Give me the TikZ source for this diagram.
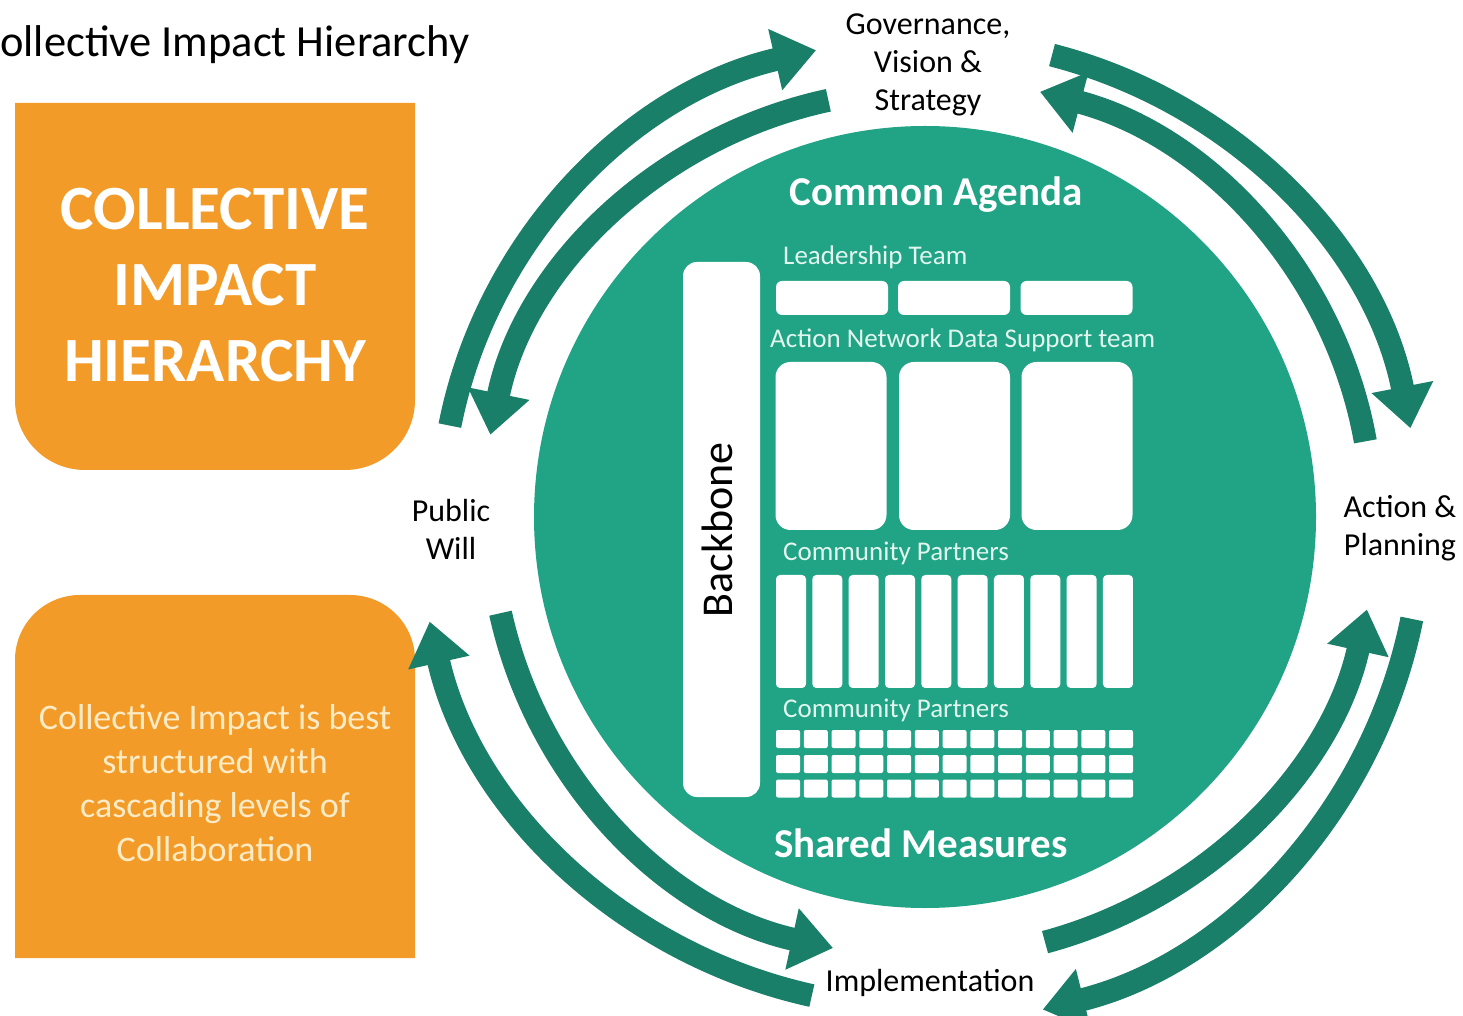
\documentclass[tikz,border=0pt]{standalone}
\usepackage{fontspec}
\setmainfont{Carlito}
\usetikzlibrary{arrows.meta,calc}
\definecolor{circfill}{HTML}{21A385}
\definecolor{arrowgreen}{HTML}{1A7F68}
\definecolor{boxorange}{HTML}{F29B28}
\definecolor{creamtext}{HTML}{FDEBC6}
\definecolor{minttext}{HTML}{E2F6EF}
\begin{document}
\begin{tikzpicture}[x=1pt,y=1pt,
  flow/.style={draw=arrowgreen, line width=23pt, -{Triangle[width=60pt,length=42pt]}},
  whitebox/.style={fill=white, draw=none, inner sep=0pt, outer sep=0pt},
  lbl/.style={align=center, inner sep=0pt, font=\fontsize{32}{38}\selectfont},
  inlbl/.style={anchor=west, inner sep=0pt, text=minttext, font=\fontsize{27}{30}\selectfont},
  headlbl/.style={inner sep=0pt, text=white, font=\bfseries\fontsize{41}{48}\selectfont}]
\useasboundingbox (0,0) rectangle (1463,1015);
\fill[white] (0,0) rectangle (1463,1015);

% title
\node[anchor=base west, inner sep=0pt, font=\fontsize{44.5}{50}\selectfont] (title) at (0,958) {ollective Impact Hierarchy};

% orange panels
\fill[boxorange] (15,912) -- (415,912) -- (415,615) arc[start angle=0, end angle=-90, radius=70] -- (85,545) arc[start angle=270, end angle=180, radius=70] -- cycle;
\node[align=center, inner sep=0pt, text=white, font=\bfseries\fontsize{63}{76}\selectfont] (heading) at (215,730) {COLLECTIVE\\IMPACT\\HIERARCHY};

\fill[boxorange] (15,57) -- (415,57) -- (415,355) arc[start angle=0, end angle=90, radius=65] -- (80,420) arc[start angle=90, end angle=180, radius=65] -- cycle;
\node[align=center, inner sep=0pt, text=creamtext, font=\fontsize{36}{44}\selectfont] (note) at (215,232) {Collective Impact is best\\structured with\\cascading levels of\\Collaboration};

% central disc
\coordinate (c) at (925,498);
\fill[circfill] (c) circle[radius=391];

\node[headlbl] (agenda) at (936,820) {Common Agenda};
\node[headlbl] (measures) at (921,172) {Shared Measures};

% backbone column
\node[whitebox, rounded corners=14pt, minimum width=77pt, minimum height=535pt] (backbone) at (721.5,485.5) {};
\node[rotate=90, inner sep=0pt, font=\fontsize{44}{48}\selectfont] (backbonetxt) at (717,485) {Backbone};

% leadership team
\node[inlbl] (leadtxt) at (783,758) {Leadership Team};
\foreach \i/\x in {1/832,2/954,3/1076.5}
  \node[whitebox, rounded corners=6pt, minimum width=112pt, minimum height=34pt] (lead\i) at (\x,717) {};

% action networks
\node[inlbl] (actiontxt) at (770,675) {Action Network Data Support team};
\foreach \i/\x in {1/831,2/954.5,3/1077}
  \node[whitebox, rounded corners=15pt, minimum width=111pt, minimum height=168pt] (act\i) at (\x,569) {};

% community partners, first tier
\node[inlbl] (cptxtA) at (783,462) {Community Partners};
\foreach \i in {0,...,9}
  \node[whitebox, rounded corners=4pt, minimum width=30pt, minimum height=113pt] (cpa\i) at ({791+36.33*\i},383.5) {};

% community partners, second tier
\node[inlbl] (cptxtB) at (783,305) {Community Partners};
\foreach \r/\y in {1/276,2/251,3/226.5}
  \foreach \i in {0,...,12}
    \node[whitebox, rounded corners=2pt, minimum width=24pt, minimum height=18pt] (cpb\r-\i) at ({788+27.75*\i},\y) {};

% outer labels
\node[lbl] (gov) at (928,950) {Governance,\\Vision \&\\Strategy};
\node[lbl] (pub) at (451,486) {Public\\Will};
\node[lbl] (act) at (1400,487) {Action \&\\Planning};
\node[lbl] (imp) at (930,32) {Implementation};

% arc start points
\coordinate (tlo) at ($(c)+({484*cos(169)},{479*sin(169)})$);
\coordinate (tli) at ($(c)+({443*cos(102.6)},{427*sin(102.6)})$);
\coordinate (tro) at ($(c)+({494*cos(75.1)},{478*sin(75.1)})$);
\coordinate (tri) at ($(c)+({447*cos(9.9)},{440*sin(9.9)})$);
\coordinate (bri) at ($(c)+({452*cos(-74.6)},{441*sin(-74.6)})$);
\coordinate (bro) at ($(c)+({497*cos(-11.6)},{507*sin(-11.6)})$);
\coordinate (bli) at ($(c)+({435*cos(192.6)},{441*sin(192.6)})$);
\coordinate (blo) at ($(c)+({507*cos(257.1)},{491*sin(257.1)})$);

% cycle arrows
\draw[flow] (tlo) arc[start angle=169, end angle=103, x radius=484, y radius=479];
\draw[flow] (tli) arc[start angle=102.6, end angle=168.9, x radius=443, y radius=427];
\draw[flow] (tro) arc[start angle=75.1, end angle=10.7, x radius=494, y radius=478];
\draw[flow] (tri) arc[start angle=9.9, end angle=75.1, x radius=447, y radius=440];
\draw[flow] (bri) arc[start angle=-74.6, end angle=-12.1, x radius=452, y radius=441];
\draw[flow] (bro) arc[start angle=-11.6, end angle=-76.3, x radius=497, y radius=507];
\draw[flow] (bli) arc[start angle=192.6, end angle=257.8, x radius=435, y radius=441];
\draw[flow] (blo) arc[start angle=257.1, end angle=192.3, x radius=507, y radius=491];
\end{tikzpicture}
\end{document}
